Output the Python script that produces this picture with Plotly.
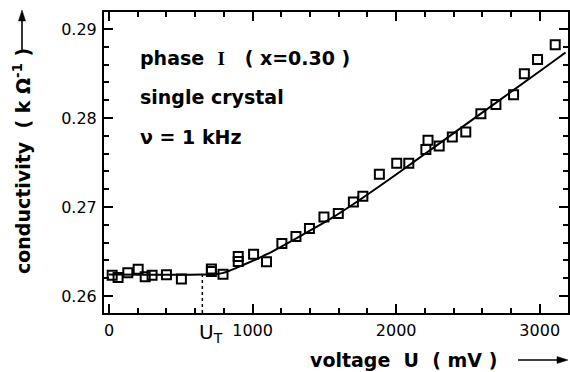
import plotly.graph_objects as go

# Measured conductivity vs. applied voltage (phase I, x = 0.30, single crystal, 1 kHz)
voltage_mV = [22, 63, 131, 203, 252, 300, 400, 504, 713, 713, 794, 900, 900,
              1007, 1097, 1204, 1302, 1396, 1497, 1597, 1702, 1768, 1883, 2004,
              2088, 2207, 2222, 2300, 2391, 2485, 2590, 2695, 2818, 2893, 2985, 3108]
conductivity = [0.26235, 0.26210, 0.26263, 0.26300, 0.26216, 0.26235, 0.26239,
                0.26191, 0.26305, 0.26275, 0.26244, 0.26445, 0.26389, 0.26471,
                0.26385, 0.26591, 0.26669, 0.26759, 0.26889, 0.26927, 0.27057,
                0.27121, 0.27368, 0.27491, 0.27491, 0.27645, 0.27749, 0.27684,
                0.27786, 0.27842, 0.28048, 0.28152, 0.28262, 0.28497, 0.28657,
                0.28822]

# Guide curve through the data: constant below the threshold, rising above it
fit_U = [0, 650, 790, 950, 1100, 1350, 1550, 1750, 2000, 2500, 3000, 3180]
fit_sigma = [0.26242, 0.26242, 0.26258, 0.26360, 0.26470, 0.26690, 0.26875,
             0.27085, 0.27365, 0.27945, 0.28525, 0.28735]

U_T = 650  # threshold voltage (mV)

x_range = [-35, 3197]
y_range = [0.2581, 0.2919]
x_ticks = [0, 1000, 2000, 3000]
y_ticks = [0.26, 0.27, 0.28, 0.29]

W, H = 570, 372
ML, MR, MT, MB = 104, 2, 12, 59
PW, PH = W - ML - MR, H - MT - MB
NB = "\u00a0"


def px(xp):
    return (xp - ML) / PW


def py(yp):
    return (H - MB - yp) / PH


BOLD = "DejaVu Sans"
fig = go.Figure()

fig.add_trace(go.Scatter(
    x=fit_U, y=fit_sigma, mode="lines",
    line=dict(color="black", width=2, shape="spline", smoothing=0.8),
    hoverinfo="skip", showlegend=False))

fig.add_trace(go.Scatter(
    x=[U_T, U_T], y=[y_range[0], fit_sigma[1]], mode="lines",
    line=dict(color="black", width=1.5, dash="dot"),
    hoverinfo="skip", showlegend=False))

fig.add_trace(go.Scatter(
    x=voltage_mV, y=conductivity, mode="markers",
    marker=dict(symbol="square-open", size=9, color="black",
                line=dict(color="black", width=2)),
    showlegend=False))

# invisible trace that carries the mirrored (top/right) tick axes
fig.add_trace(go.Scatter(x=[x_range[0]], y=[y_range[0]], xaxis="x2", yaxis="y2",
                         mode="markers", marker=dict(opacity=0),
                         hoverinfo="skip", showlegend=False))

tick_common = dict(
    showline=True, linecolor="black", linewidth=2,
    ticks="inside", ticklen=9, tickwidth=2, tickcolor="black",
    showgrid=False, zeroline=False,
    tickfont=dict(family="DejaVu Sans", size=16, color="black"),
)
x_minor = dict(dtick=200, tick0=0, ticklen=5, tickwidth=1.5,
               tickcolor="black", ticks="inside", showgrid=False)
y_minor = dict(dtick=0.002, tick0=0.26, ticklen=5, tickwidth=1.5,
               tickcolor="black", ticks="inside", showgrid=False)

fig.update_layout(
    xaxis=dict(range=x_range, tickvals=x_ticks, minor=x_minor,
               ticklabelstandoff=2, **tick_common),
    yaxis=dict(range=y_range, tickvals=y_ticks, tickformat=".2f", minor=y_minor,
               ticklabelstandoff=2, **tick_common),
    xaxis2=dict(range=x_range, tickvals=x_ticks, minor=x_minor, overlaying="x",
                side="top", anchor="y2", showticklabels=False, **tick_common),
    yaxis2=dict(range=y_range, tickvals=y_ticks, minor=y_minor, overlaying="y",
                side="right", anchor="x2", showticklabels=False, **tick_common),
)

annotations = [
    dict(x=px(138), y=py(58), xanchor="left", yanchor="middle",
         text="phase" + NB * 2 + "<span style='font-family:Liberation Serif'>I</span>"
              + NB * 3 + "(" + NB + "x=0.30" + NB + ")"),
    dict(x=px(138), y=py(97), xanchor="left", yanchor="middle",
         text="single crystal"),
    dict(x=px(138), y=py(137), xanchor="left", yanchor="middle",
         text="ν" + NB + "=" + NB + "1" + NB + "kHz"),
    dict(x=px(403), y=py(360), xanchor="center", yanchor="middle",
         text="voltage" + NB * 2 + "U" + NB * 2 + "(" + NB + "mV" + NB + ")"),
    dict(x=px(22), y=py(161), xanchor="center", yanchor="middle",
         textangle=-90,
         text="conductivity" + NB * 2 + "(" + NB + "k" + NB + "Ω<sup>-1</sup>" + NB + ")"),
]
for a in annotations:
    a.update(xref="paper", yref="paper", showarrow=False,
             font=dict(family=BOLD, size=19, color="black"))
    a["text"] = "<b>" + a["text"] + "</b>"
    fig.add_annotation(**a)

# threshold label under the axis
fig.add_annotation(x=px(197), xref="paper", y=py(333), yref="paper",
                   xanchor="left", yanchor="middle", showarrow=False,
                   text="U<sub>T</sub>",
                   font=dict(family="DejaVu Sans", size=20, color="black"))

# arrows pointing along the increasing axis directions
shapes = [
    dict(type="line", xref="paper", yref="paper",
         x0=px(518), x1=px(560), y0=py(360), y1=py(360),
         line=dict(color="black", width=1.6)),
    dict(type="path", xref="paper", yref="paper",
         path=f"M {px(568)} {py(360)} L {px(557)} {py(356.5)} L {px(557)} {py(363.5)} Z",
         fillcolor="black", line=dict(color="black", width=0.5)),
    dict(type="line", xref="paper", yref="paper",
         x0=px(22), x1=px(22), y0=py(50), y1=py(19),
         line=dict(color="black", width=1.6)),
    dict(type="path", xref="paper", yref="paper",
         path=f"M {px(22)} {py(10)} L {px(18.5)} {py(21)} L {px(25.5)} {py(21)} Z",
         fillcolor="black", line=dict(color="black", width=0.5)),
]

fig.update_layout(
    width=W, height=H,
    margin=dict(l=ML, r=MR, t=MT, b=MB, pad=0),
    paper_bgcolor="white", plot_bgcolor="white",
    showlegend=False, shapes=shapes,
)

fig.write_html("out.html")
